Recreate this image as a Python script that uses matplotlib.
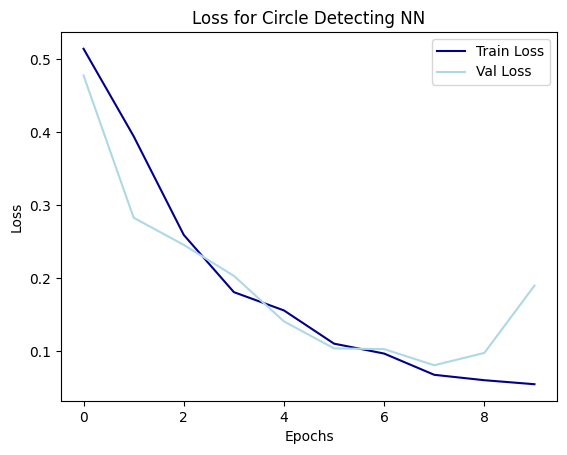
import matplotlib
matplotlib.use("Agg")
import matplotlib.pyplot as plt

epochs = list(range(10))
train_loss = [0.5145, 0.3947, 0.2595, 0.1811, 0.156, 0.1105, 0.0969, 0.0678, 0.0604, 0.0549]
val_loss = [0.478, 0.283, 0.2458, 0.2034, 0.141, 0.104, 0.103, 0.0809, 0.0978, 0.190]

fig = plt.figure(figsize=(5.67, 4.55), dpi=100)
ax = fig.add_axes([61/567, 1 - 401/455, 496/567, 369/455])
ax.plot(epochs, train_loss, color="darkblue", label="Train Loss")
ax.plot(epochs, val_loss, color="lightblue", label="Val Loss")
ax.set_title("Loss for Circle Detecting NN")
ax.set_xlabel("Epochs")
ax.set_ylabel("Loss")
ax.legend()
fig.savefig("out.png", dpi=100)
